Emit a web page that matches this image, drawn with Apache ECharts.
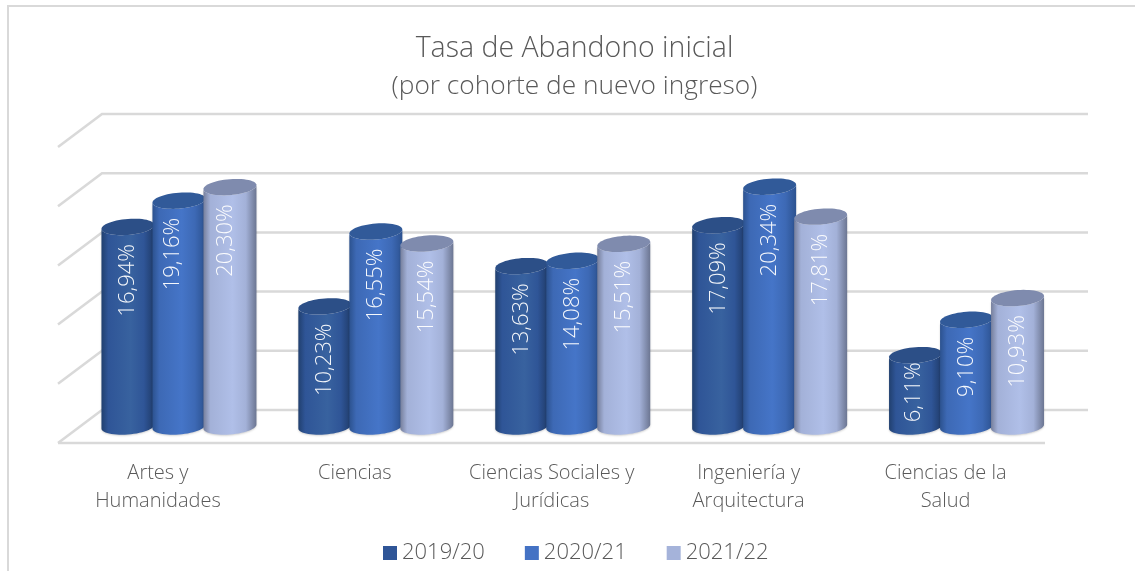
<!DOCTYPE html>
<html><head><meta charset="utf-8">
<style>html,body{margin:0;padding:0;background:#fff}#c{width:1135px;height:571px}</style>
<script src="https://cdn.jsdelivr.net/npm/echarts@6/dist/echarts.min.js"></script>
</head><body><div id="c"></div>
<script>
const categories = ['Artes y\nHumanidades','Ciencias','Ciencias Sociales y\nJurídicas','Ingeniería y\nArquitectura','Ciencias de la\nSalud'];
const years = ['2019/20','2020/21','2021/22'];
const v2019 = [16.94,10.23,13.63,17.09,6.11];
const v2020 = [19.16,16.55,14.08,20.34,9.10];
const v2021 = [20.30,15.54,15.51,17.81,10.93];
const gridTicks = [0,5,10,15,20,25];

const FONT = '"Open Sans", sans-serif';
const styles = [
  {legend:'#2F5597', stops:['#21406f','#2f5597','#38629f','#2f5597','#1f3b69'], top:'#2c4f87'},
  {legend:'#4472C4', stops:['#2c528f','#3d69b5','#4575c8','#3d69b5','#2c5290'], top:'#315a99'},
  {legend:'#A5B3DA', stops:['#767f9c','#a3b1d8','#b0bfe8','#a3b1d8','#6c7692'], top:'#7f8bae'}
];
const BAR_PITCH = 51/196.9, BAR_W = 53/196.9, RY = 8, TILT = 2, TOP_DROP = 1;
// labels that sit off their default spot in the source: [dx, dy]
const labelNudge = {'0:1':[-6,0], '0:2':[-4.5,0], '4:0':[-1.5,-10]};

function arc(cx, cy, rx, ry, s, a0, a1, n){
  const pts=[];
  for(let i=0;i<=n;i++){
    const t=a0+(a1-a0)*i/n;
    pts.push([cx+rx*Math.cos(t), cy+ry*Math.sin(t)-s*Math.cos(t)]);
  }
  return pts;
}
function cylinder(idx){
  const st = styles[idx];
  const fill = new echarts.graphic.LinearGradient(0,0,1,0,[
    {offset:0,color:st.stops[0]},{offset:.13,color:st.stops[1]},{offset:.55,color:st.stops[2]},
    {offset:.8,color:st.stops[3]},{offset:1,color:st.stops[4]}]);
  return function(params, api){
    const cat = api.value(0), val = api.value(1);
    const top = api.coord([cat,val]), base = api.coord([cat,0]);
    const band = api.size([1,0])[0];
    const cx = top[0] + (idx-1)*BAR_PITCH*band;
    const rx = BAR_W*band/2;
    const ty = top[1]+TOP_DROP;
    const bottom = arc(cx, base[1], rx, RY, TILT, 0, Math.PI, 28);
    const topBack = arc(cx, ty, rx, RY, TILT, Math.PI, 0, 28);
    const topFull = arc(cx, ty, rx, RY, TILT, 0, Math.PI*2, 56);
    const label = val.toFixed(2).replace('.',',')+'%';
    const nudge = labelNudge[cat+':'+idx]||[0,0];
    return {type:'group', children:[
      {type:'polygon', shape:{points:bottom.concat(topBack)}, style:{fill, shadowBlur:2, shadowColor:'rgba(0,0,0,.18)', shadowOffsetY:1}},
      {type:'polygon', shape:{points:topFull}, style:{fill:st.top}},
      {type:'text', x:cx+nudge[0], y:ty+17+nudge[1], rotation:Math.PI/2,
       style:{text:label, fill:'#fff', font:'300 22px '+FONT, textAlign:'right', textVerticalAlign:'middle', opacity:.95}}
    ]};
  };
}
function gridRender(params, api){
  const v = api.value(0);
  const cs = params.coordSys;
  const y = api.coord([0,v])[1];
  const lx = cs.x-22.5, bx = cs.x+21.5, rx = cs.x+cs.width+23, fr = cs.x+cs.width-20;
  const ln = {stroke:'#d9d9d9', lineWidth:2.5, fill:null};
  const kids = [{type:'polyline', shape:{points:[[lx,y+16.5],[bx,y-16.5],[rx,y-16.5]]}, style:ln}];
  if(v===0) kids.push({type:'line', shape:{x1:lx,y1:y+16.5,x2:fr,y2:y+16.5}, style:ln});
  return {type:'group', children:kids};
}
const chart = echarts.init(document.getElementById('c'), null, {renderer:'canvas'});
chart.setOption({
  animation:false,
  backgroundColor:'#fff',
  title:{text:'{a|Tasa de Abandono inicial}\n{b|(por cohorte de nuevo ingreso)}', left:569.5, top:25, textAlign:'center',
    textStyle:{rich:{
      a:{fontFamily:FONT, fontWeight:300, fontSize:28.5, lineHeight:38, color:'#595959'},
      b:{fontFamily:FONT, fontWeight:300, fontSize:26.3, lineHeight:38, color:'#595959'}}}},
  legend:{data:years, bottom:2, left:378, itemWidth:14, itemHeight:14, itemGap:40, icon:'rect',
    textStyle:{fontFamily:FONT, fontWeight:300, fontSize:22, color:'#595959'}},
  grid:{left:80.5, top:130.5, width:984.5, height:296},
  xAxis:{type:'category', data:categories, axisLine:{show:false}, axisTick:{show:false},
    axisLabel:{interval:0, margin:32.5, padding:[0,42,0,0], fontFamily:FONT, fontWeight:300, fontSize:20, lineHeight:28, color:'#595959'}},
  yAxis:{type:'value', min:0, max:25, interval:5, show:false, splitLine:{show:false}},
  graphic:[{type:'polyline', silent:true, z:-1, shape:{points:[[8,571],[8,6],[1135,6]]}, style:{stroke:'#d9d9d9', lineWidth:2, fill:null}}],
  series:[
    {type:'custom', name:'grid', z:1, silent:true, renderItem:gridRender, encode:{y:0}, data:gridTicks.map(t=>[t])},
    ...[v2019,v2020,v2021].map((vals,i)=>({
      type:'custom', name:years[i], z:2+i, renderItem:cylinder(i), encode:{x:0,y:1},
      itemStyle:{color:styles[i].legend},
      data:vals.map((v,c)=>[c,v])
    }))
  ]
});
</script></body></html>
